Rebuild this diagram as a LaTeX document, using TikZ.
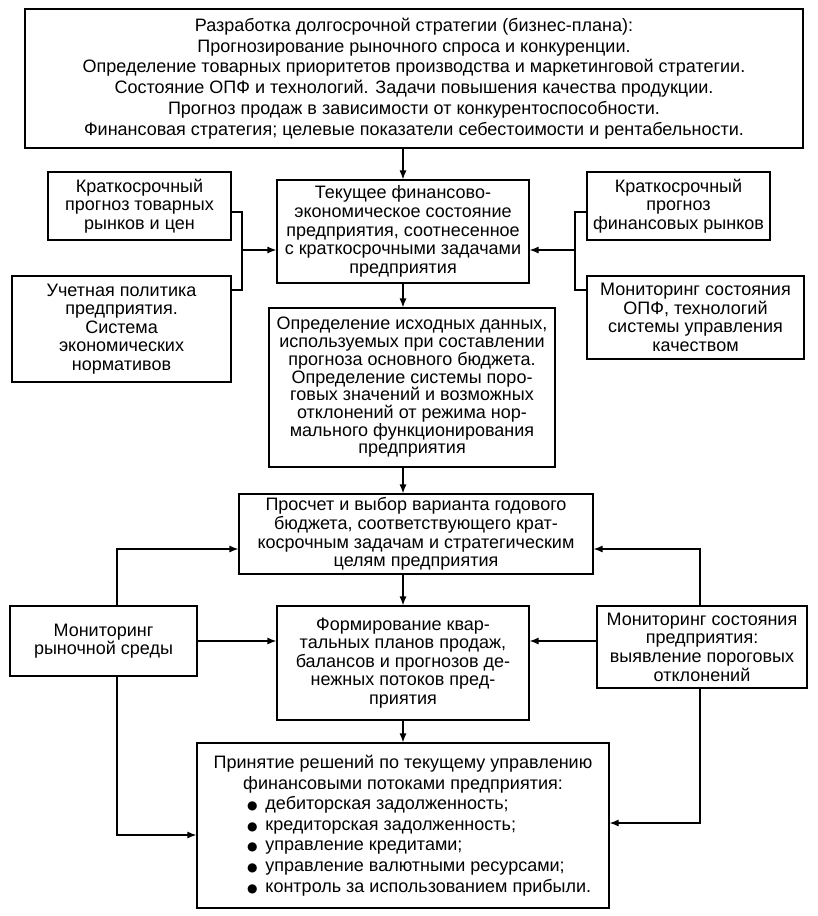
\documentclass[tikz,border=0pt]{standalone}
\usepackage{fontspec}
\setmainfont{Liberation Sans}
\newfontfamily\symfont{DejaVu Sans}
\usepackage{tikz}
\usetikzlibrary{arrows.meta}

\tikzset{
  blk/.style={draw=black, line width=1.2pt, inner sep=0pt, align=center,
    font=\fontsize{18}{18.6}\selectfont},
  arr/.style={line width=1.2pt, -{Latex[length=9pt,width=7pt]}},
  lnk/.style={line width=1.2pt}
}
\newcommand{\pnt}[1]{\makebox[312pt][l]{{\symfont\fontsize{12}{12}\selectfont ●}\hspace{8pt}#1}}

\begin{document}
\begin{tikzpicture}[x=1pt,y=-1pt]
\useasboundingbox (0,0) rectangle (817,916);

\node[blk, minimum width=778pt, minimum height=139pt, font=\fontsize{18}{20.7}\selectfont] (top) at (414,78.5)
  {Разработка долгосрочной стратегии (бизнес-плана):\\
   Прогнозирование рыночного спроса и конкуренции.\\
   Определение товарных приоритетов производства и маркетинговой стратегии.\\
   Состояние ОПФ и технологий. Задачи повышения качества продукции.\\
   Прогноз продаж в зависимости от конкурентоспособности.\\
   Финансовая стратегия; целевые показатели себестоимости и рентабельности.};

\node[blk, minimum width=252pt, minimum height=103pt] (cur) at (403,231.5)
  {Текущее финансово-\\экономическое состояние\\предприятия, соотнесенное\\с краткосрочными задачами\\предприятия};
\node[blk, minimum width=183pt, minimum height=68pt] (kl1) at (139.5,206)
  {Краткосрочный\\прогноз товарных\\рынков и цен};
\node[blk, minimum width=219pt, minimum height=106pt] (kl2) at (121.5,329)
  {Учетная политика\\предприятия.\\Система\\экономических\\нормативов};
\node[blk, minimum width=183pt, minimum height=68pt] (kr1) at (678.5,206)
  {Краткосрочный\\прогноз\\финансовых рынков};
\node[blk, minimum width=217pt, minimum height=83pt] (kr2) at (695.5,317.5)
  {Мониторинг состояния\\ОПФ, технологий\\системы управления\\качеством};

\node[blk, minimum width=286pt, minimum height=159pt, font=\fontsize{18}{17.7}\selectfont] (est) at (412,387.5)
  {Определение исходных данных,\\используемых при составлении\\прогноза основного бюджета.\\Определение системы поро-\\говых значений и возможных\\отклонений от режима нор-\\мального функционирования\\предприятия};
\node[blk, minimum width=354pt, minimum height=80pt] (bud) at (416,534)
  {Просчет и выбор варианта годового\\бюджета, соответствующего крат-\\косрочным задачам и стратегическим\\целям предприятия};
\node[blk, minimum width=252pt, minimum height=114pt] (kvp) at (403,663)
  {Формирование квар-\\тальных планов продаж,\\балансов и прогнозов де-\\нежных потоков пред-\\приятия};
\node[blk, minimum width=187pt, minimum height=70pt] (ml) at (103.5,641)
  {Мониторинг\\рыночной среды};
\node[blk, minimum width=210pt, minimum height=82pt] (mr) at (702,647)
  {Мониторинг состояния\\предприятия:\\выявление пороговых\\отклонений};
\node[blk, minimum width=412pt, minimum height=165pt, font=\fontsize{18}{20.6}\selectfont] (dec) at (403,825.5)
  {Принятие решений по текущему управлению\\финансовыми потоками предприятия:\\
   \pnt{дебиторская задолженность;}\\
   \pnt{кредиторская задолженность;}\\
   \pnt{управление кредитами;}\\
   \pnt{управление валютными ресурсами;}\\
   \pnt{контроль за использованием прибыли.}};

\coordinate (sp) at (403,0);
\coordinate (lt) at (242,212);
\coordinate (lb) at (242,290);
\coordinate (jl) at (242,250);
\coordinate (rt) at (575,212);
\coordinate (rb) at (575,290);
\coordinate (jr) at (575,250);
\coordinate (mlu) at (117,549);
\coordinate (mld) at (117,835);
\coordinate (mru) at (700,549);
\coordinate (mrd) at (700,823);
\coordinate (mid) at (0,641);

\draw[arr] (sp |- top.south) -- (sp |- cur.north);
\draw[arr] (sp |- cur.south) -- (sp |- est.north);
\draw[arr] (sp |- est.south) -- (sp |- bud.north);
\draw[arr] (sp |- bud.south) -- (sp |- kvp.north);
\draw[arr] (sp |- kvp.south) -- (sp |- dec.north);

\draw[lnk] (kl1.east |- lt) -- (lt) -- (lb) -- (kl2.east |- lb);
\draw[arr] (jl) -- (cur.west |- jl);
\draw[lnk] (kr1.west |- rt) -- (rt) -- (rb) -- (kr2.west |- rb);
\draw[arr] (jr) -- (cur.east |- jr);

\draw[arr] (ml.north -| mlu) |- (bud.west |- mlu);
\draw[arr] (ml.east |- mid) -- (kvp.west |- mid);
\draw[arr] (ml.south -| mld) |- (dec.west |- mld);
\draw[arr] (mr.north -| mru) |- (bud.east |- mru);
\draw[arr] (mr.west |- mid) -- (kvp.east |- mid);
\draw[arr] (mr.south -| mrd) |- (dec.east |- mrd);

\end{tikzpicture}
\end{document}
